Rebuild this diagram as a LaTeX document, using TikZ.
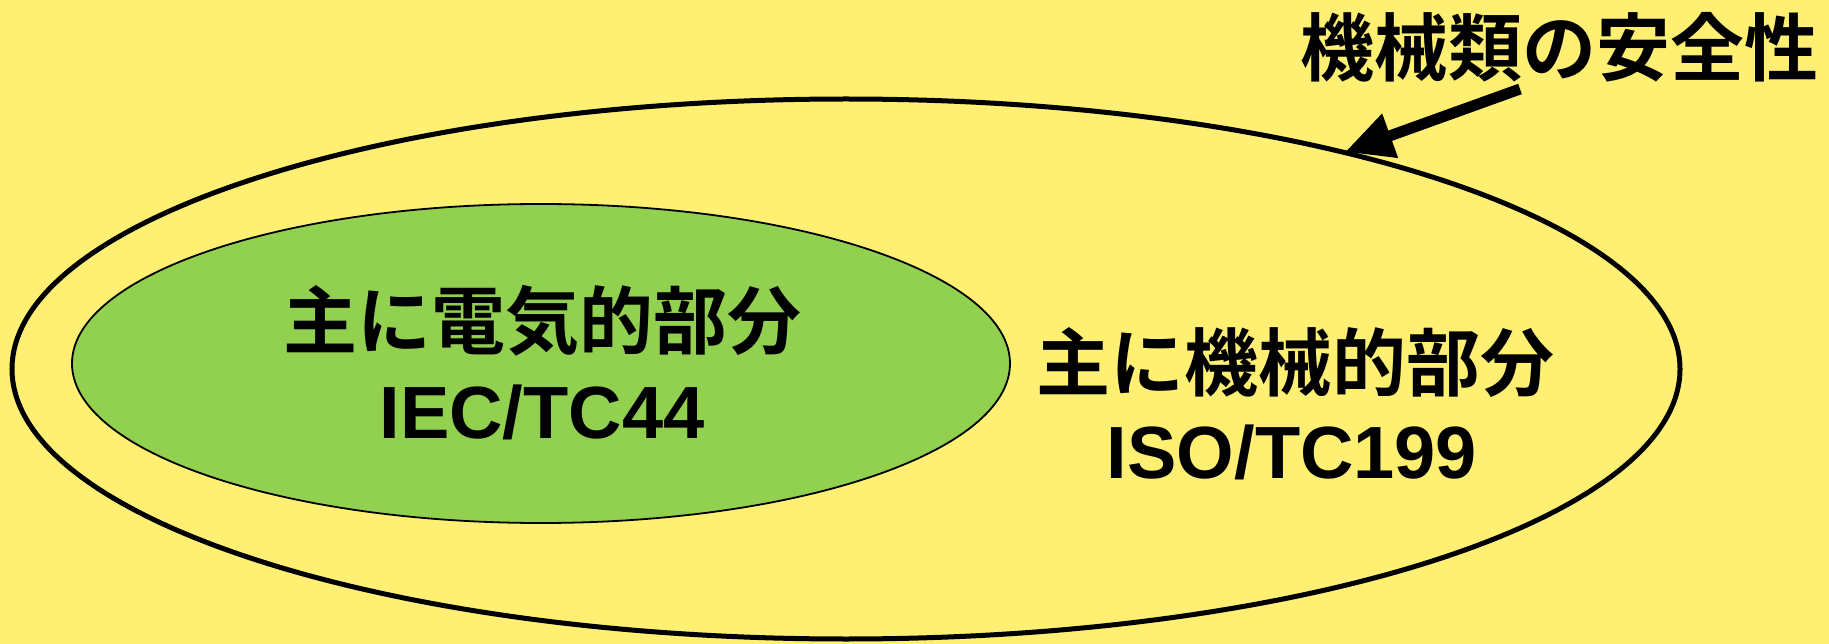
\documentclass[tikz,border=0pt]{standalone}
\usepackage{fontspec}
\setmainfont{Liberation Sans}[BoldFont={Liberation Sans Bold}]
\newfontfamily\cjk{Noto Sans CJK JP}[BoldFont={Noto Sans CJK JP Bold}]
\usetikzlibrary{shapes.geometric,arrows.meta}
\definecolor{bgyellow}{RGB}{255,240,115}
\definecolor{ellgreen}{RGB}{146,208,80}
\tikzset{
  cjktext/.style={font=\cjk\bfseries\fontsize{74pt}{80pt}\selectfont, inner sep=0pt},
  latintext/.style={font=\bfseries\fontsize{74pt}{80pt}\selectfont, inner sep=0pt},
  bigarrow/.style={line width=11pt, -{Triangle[length=48pt,width=44pt]}},
}
\begin{document}
\begin{tikzpicture}[x=1pt,y=-1pt]
\useasboundingbox (0,0) rectangle (1829,644);
\fill[bgyellow] (0,0) rectangle (1829,644);
\node[ellipse, draw, line width=5pt, minimum width=1668pt, minimum height=540pt, inner sep=0pt, outer sep=0pt] (outer) at (846,369) {};
\node[ellipse, draw, fill=ellgreen, line width=1.8pt, minimum width=938pt, minimum height=319pt, inner sep=0pt, outer sep=0pt] (inner) at (541,363.5) {};
\node[cjktext] (elec) at (542,321) {主に電気的部分};
\node[latintext] (iec) at (542,412) {IEC/TC44};
\node[cjktext] (mech) at (1295,363) {主に機械的部分};
\node[latintext] (iso) at (1292,452) {ISO/TC199};
\node[cjktext] (title) at (1559,47) {機械類の安全性};
\coordinate (tail) at (1520,89);
\coordinate (tip) at (1345,152);
\draw[bigarrow] (tail) -- (tip);
\end{tikzpicture}
\end{document}
